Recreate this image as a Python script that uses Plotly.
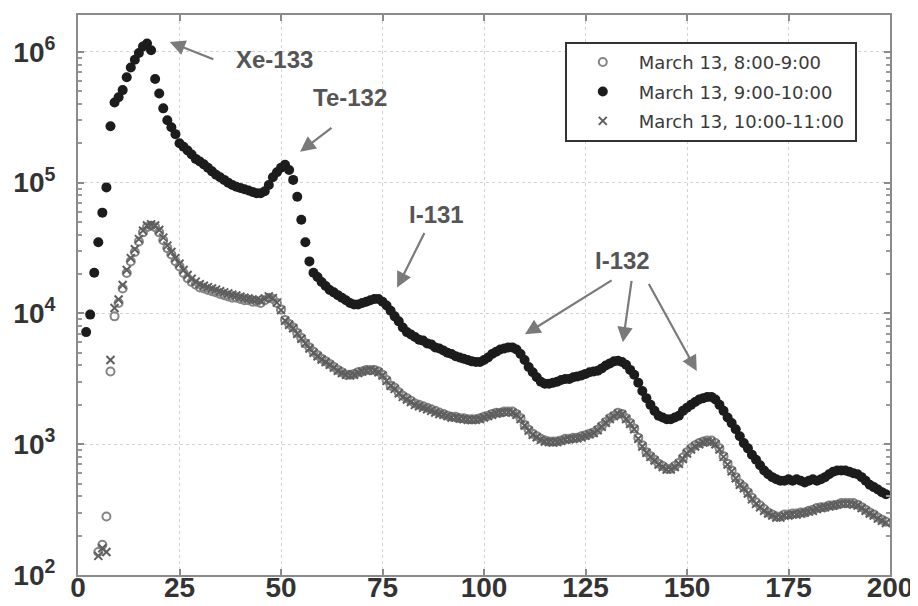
import plotly.graph_objects as go

# ---------------- data ----------------
SERIES_NAMES = ["March 13, 8:00-9:00", "March 13, 9:00-10:00", "March 13, 10:00-11:00"]

CH_BLACK = list(range(2, 200))
CNT_0910 = [
    7200, 9800, 20500, 35000, 59000, 92000, 270000, 410000, 450000, 510000,
    640000, 760000, 870000, 980000, 1100000, 1160000, 1030000, 620000, 480000, 370000,
    300000, 265000, 235000, 200000, 188000, 176000, 164000, 152000, 145000, 138000,
    130000, 122000, 115000, 110000, 105000, 100000, 96000, 93000, 91000, 89000,
    87000, 85000, 83000, 83000, 86000, 96000, 110000, 120000, 130000, 137000,
    125000, 105000, 78000, 52000, 35000, 25000, 20500, 19000, 17400, 16200,
    15100, 14500, 13800, 13200, 12600, 12000, 11700, 11700, 12000, 12300,
    12600, 12900, 12900, 12300, 11500, 10500, 9500, 8700, 7800, 7200,
    6900, 6600, 6300, 6200, 5900, 5800, 5500, 5400, 5200, 5000,
    4900, 4700, 4600, 4500, 4400, 4300, 4250, 4250, 4400, 4600,
    4900, 5100, 5300, 5400, 5500, 5500, 5300, 4900, 4400, 3900,
    3550, 3250, 3000, 2900, 2900, 2950, 3000, 3100, 3150, 3150,
    3250, 3300, 3350, 3450, 3550, 3600, 3650, 3800, 4000, 4150,
    4300, 4350, 4250, 4050, 3700, 3400, 2950, 2550, 2250, 2000,
    1800, 1650, 1600, 1550, 1550, 1600, 1650, 1800, 1900, 2000,
    2100, 2200, 2250, 2300, 2300, 2200, 2000, 1800, 1600, 1450,
    1300, 1150, 1020, 930, 830, 760, 690, 630, 590, 560,
    540, 525, 525, 540, 525, 540, 525, 510, 525, 540,
    525, 540, 560, 590, 615, 630, 630, 630, 615, 600,
    590, 560, 525, 490, 470, 450, 430, 415,
]

CH_GRAY = list(range(5, 200))
CNT_0809 = [
    150, 170, 280, 3600, 9500, 12000, 15500, 20400, 25000, 29500,
    35500, 41700, 45700, 46800, 45700, 41700, 36300, 31600, 28200, 25100,
    22900, 20400, 18600, 17400, 16600, 15800, 15500, 15100, 14800, 14500,
    14100, 13800, 13500, 13200, 13200, 12900, 12600, 12600, 12300, 12300,
    12000, 12600, 13200, 12900, 12000, 10700, 8900, 8300, 7800, 7100,
    6500, 5900, 5500, 5100, 4800, 4500, 4300, 4100, 3900, 3700,
    3550, 3400, 3400, 3450, 3550, 3600, 3700, 3700, 3700, 3600,
    3400, 3100, 2800, 2700, 2500, 2350, 2250, 2150, 2050, 2000,
    1950, 1900, 1850, 1800, 1750, 1700, 1650, 1620, 1620, 1580,
    1580, 1550, 1550, 1550, 1580, 1620, 1650, 1700, 1740, 1740,
    1780, 1780, 1780, 1700, 1580, 1400, 1290, 1200, 1150, 1100,
    1070, 1050, 1050, 1050, 1070, 1100, 1100, 1120, 1120, 1150,
    1170, 1200, 1230, 1290, 1380, 1480, 1580, 1650, 1740, 1700,
    1580, 1450, 1320, 1120, 980, 870, 810, 760, 710, 680,
    650, 650, 680, 720, 790, 870, 930, 980, 1020, 1050,
    1070, 1070, 1020, 930, 810, 710, 630, 560, 500, 470,
    430, 390, 360, 340, 320, 300, 290, 280, 280, 290,
    290, 295, 295, 300, 300, 310, 315, 325, 330, 330,
    340, 340, 345, 355, 355, 355, 355, 345, 330, 315,
    300, 290, 275, 265, 255,
]
CNT_1011 = [
    140, 160, 150, 4400, 11000, 12800, 16500, 21500, 26500, 31000,
    37000, 43000, 47000, 48000, 47000, 43500, 38000, 33000, 29500, 26500,
    24000, 21500, 19700, 18400, 17500, 16700, 16300, 15900, 15500, 15200,
    14800, 14500, 14200, 13900, 13700, 13400, 13200, 13000, 12800, 12700,
    12500, 13000, 13500, 13100, 12100, 10600, 8800, 8200, 7700, 7000,
    6400, 5900, 5400, 5000, 4700, 4450, 4250, 4050, 3850, 3650,
    3500, 3400, 3350, 3400, 3500, 3600, 3650, 3700, 3650, 3550,
    3350, 3050, 2800, 2650, 2450, 2300, 2200, 2100, 2000, 1950,
    1900, 1850, 1800, 1750, 1700, 1680, 1640, 1600, 1600, 1570,
    1560, 1540, 1530, 1540, 1560, 1600, 1640, 1680, 1720, 1740,
    1760, 1760, 1750, 1680, 1560, 1390, 1270, 1180, 1130, 1080,
    1050, 1040, 1030, 1040, 1060, 1080, 1090, 1100, 1110, 1130,
    1160, 1190, 1220, 1280, 1360, 1460, 1560, 1640, 1720, 1690,
    1560, 1430, 1300, 1100, 960, 860, 800, 750, 700, 670,
    640, 640, 670, 710, 770, 850, 910, 960, 1000, 1030,
    1050, 1040, 1000, 910, 800, 700, 620, 550, 490, 460,
    420, 380, 350, 330, 310, 295, 285, 275, 275, 285,
    285, 290, 290, 295, 300, 305, 310, 320, 325, 330,
    335, 340, 345, 350, 350, 350, 345, 340, 325, 310,
    295, 285, 270, 260, 250,
]

X_TICKS = [0, 25, 50, 75, 100, 125, 150, 175, 200]
Y_TICKS = [1e2, 1e3, 1e4, 1e5, 1e6]
Y_TICKTEXT = ["10<sup>2</sup>", "10<sup>3</sup>", "10<sup>4</sup>", "10<sup>5</sup>", "10<sup>6</sup>"]

# ---------------- figure ----------------
FONT = "Liberation Sans, Arial, sans-serif"
PAD = "\u00a0"
fig = go.Figure()

fig.add_trace(go.Scatter(
    x=CH_GRAY, y=CNT_0809, mode="markers", name=SERIES_NAMES[0] + PAD, legendgroup="a",
    marker=dict(symbol="circle-open", size=8, color="#858585", line=dict(width=2, color="#858585")),
))
fig.add_trace(go.Scatter(
    x=CH_BLACK, y=CNT_0910, mode="markers", name=SERIES_NAMES[1] + PAD, legendgroup="b",
    marker=dict(symbol="circle", size=10, color="#1c1c1c"),
))
fig.add_trace(go.Scatter(
    x=CH_GRAY, y=CNT_1011, mode="markers", name=SERIES_NAMES[2] + PAD, legendgroup="c",
    marker=dict(symbol="x-thin-open", size=8, color="#5e5e5e", line=dict(width=2, color="#5e5e5e")),
))

minor_vals = [m * 10 ** e for e in range(2, 7) for m in range(2, 10)]

axis_common = dict(
    showline=True, linecolor="#8a8a8a", linewidth=2, mirror="ticks",
    ticks="inside", ticklen=6, tickcolor="#8a8a8a", tickwidth=1.5,
    showgrid=True, gridcolor="#d2d2d2", griddash="dot", gridwidth=1,
    zeroline=False, automargin=False,
    tickfont=dict(family=FONT, size=28, color="#333333", weight="bold"),
)

fig.update_xaxes(range=[0, 200], tickmode="array", tickvals=X_TICKS, ticklabelstandoff=-14, **axis_common)
fig.update_yaxes(
    type="log", range=[2, 6.282], tickmode="array", tickvals=Y_TICKS, ticktext=Y_TICKTEXT,
    ticklabelstandoff=15,
    minor=dict(tickmode="array", tickvals=minor_vals, ticks="inside", ticklen=4,
               tickcolor="#9a9a9a", showgrid=False),
    **axis_common,
)

ann_font = dict(family=FONT, size=24, color="#555555", weight="bold")
texts = [
    ("Xe-133", 48.5, 5.939),
    ("Te-132", 67.0, 5.649),
    ("I-131", 88.4, 4.756),
    ("I-132", 134.2, 4.405),
]
for t, xx, yy in texts:
    fig.add_annotation(x=xx, y=yy, xref="x", yref="y", text=t, showarrow=False, font=ann_font)

# arrows: (tip_x, tip_logy, tail_x, tail_logy)
arrows = [
    (22.6, 6.076, 33.7, 5.939),
    (54.7, 5.237, 62.8, 5.427),
    (78.6, 4.198, 85.5, 4.626),
    (110.1, 3.840, 131.8, 4.260),
    (134.2, 3.779, 136.4, 4.260),
    (152.4, 3.560, 140.4, 4.237),
]
for tx, ty, sx, sy in arrows:
    fig.add_annotation(
        x=tx, y=ty, xref="x", yref="y", ax=sx, ay=sy, axref="x", ayref="y",
        text="", showarrow=True, arrowhead=2, arrowsize=1.4, arrowwidth=2.2,
        arrowcolor="#7a7a7a",
    )

# page content sits 8px in from the window's top-left corner
fig.update_layout(
    width=910, height=598,
    margin=dict(l=70, r=28, t=7, b=31),
    paper_bgcolor="white", plot_bgcolor="white",
    font=dict(family=FONT),
    showlegend=True,
    legend=dict(
        x=0.5995, y=0.952, xanchor="left", yanchor="top",
        bgcolor="white", bordercolor="#333333", borderwidth=2,
        font=dict(family="DejaVu Sans, sans-serif", size=18, color="#3a3a3a"),
        itemwidth=62, tracegroupgap=3,
    ),
)

fig.write_html("out.html")
